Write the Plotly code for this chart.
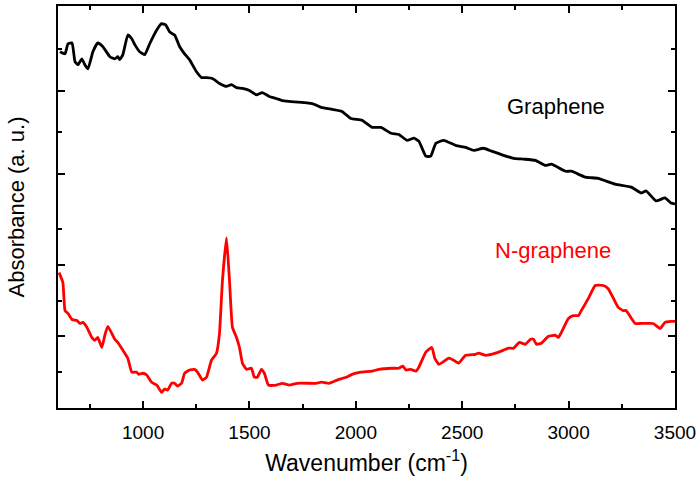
import plotly.graph_objects as go

# Graphene spectrum (upper layer, arbitrary units)
graphene_wn = [609, 633, 647, 666, 680, 694, 712, 726, 741, 764, 787, 811, 844, 867, 881, 890,
               905, 928, 947, 961, 984, 1008, 1031, 1064, 1087, 1106, 1125, 1148, 1172, 1195,
               1218, 1251, 1275, 1298, 1326, 1359, 1392, 1415, 1439, 1467, 1500, 1532, 1560,
               1593, 1626, 1654, 1687, 1795, 1837, 1888, 1935, 1977, 2029, 2076, 2118, 2165,
               2202, 2240, 2273, 2296, 2329, 2352, 2376, 2413, 2469, 2516, 2554, 2600, 2638,
               2694, 2741, 2788, 2844, 2891, 2919, 2985, 3013, 3078, 3139, 3219, 3294, 3341,
               3364, 3411, 3453, 3481, 3500]
graphene_abs = [8.93, 8.88, 9.12, 9.14, 8.69, 8.62, 8.76, 8.62, 8.52, 8.93, 9.14, 9.05, 8.81,
                8.76, 8.81, 8.74, 8.86, 9.33, 9.24, 9.10, 8.93, 8.86, 9.12, 9.45, 9.60, 9.57,
                9.40, 9.33, 9.05, 8.88, 8.74, 8.45, 8.31, 8.31, 8.29, 8.17, 8.10, 8.14, 8.07,
                8.05, 8.00, 7.90, 7.95, 7.86, 7.81, 7.76, 7.74, 7.69, 7.60, 7.55, 7.50, 7.33,
                7.29, 7.12, 7.12, 6.98, 6.95, 6.81, 6.86, 6.79, 6.43, 6.43, 6.74, 6.81, 6.69,
                6.64, 6.57, 6.62, 6.55, 6.45, 6.38, 6.36, 6.33, 6.21, 6.24, 6.07, 6.07, 5.93,
                5.90, 5.76, 5.69, 5.55, 5.60, 5.36, 5.43, 5.31, 5.29]

# N-graphene spectrum (lower layer, arbitrary units)
ngraphene_wn = [605, 623, 633, 647, 666, 689, 703, 717, 736, 759, 773, 787, 806, 820, 834, 867,
                881, 905, 928, 947, 970, 979, 998, 1017, 1040, 1064, 1087, 1101, 1115, 1134,
                1148, 1162, 1181, 1195, 1218, 1242, 1256, 1279, 1298, 1321, 1345, 1359, 1373,
                1392, 1406, 1420, 1439, 1453, 1467, 1486, 1509, 1523, 1537, 1556, 1570, 1589,
                1626, 1654, 1687, 1724, 1813, 1837, 1874, 1912, 1954, 1982, 2024, 2076, 2109,
                2169, 2202, 2221, 2235, 2258, 2282, 2296, 2329, 2357, 2371, 2390, 2437, 2460,
                2483, 2516, 2563, 2577, 2610, 2657, 2680, 2718, 2741, 2769, 2797, 2821, 2835,
                2849, 2872, 2905, 2938, 2952, 2966, 2999, 3022, 3046, 3060, 3093, 3125, 3163,
                3186, 3209, 3233, 3256, 3270, 3313, 3341, 3397, 3430, 3453, 3481, 3500]
ngraphene_abs = [3.78, 3.50, 2.72, 2.64, 2.47, 2.44, 2.36, 2.39, 2.25, 1.97, 1.89, 1.97, 1.69,
                 2.03, 2.28, 1.92, 1.83, 1.61, 1.39, 1.00, 1.00, 0.94, 0.97, 0.92, 0.72, 0.64,
                 0.44, 0.53, 0.50, 0.69, 0.69, 0.61, 0.69, 0.97, 1.06, 1.08, 1.00, 0.78, 0.86,
                 1.33, 1.53, 2.08, 3.56, 4.75, 3.56, 2.25, 1.97, 1.69, 1.25, 1.08, 1.11, 0.86,
                 0.86, 1.08, 0.97, 0.64, 0.64, 0.69, 0.64, 0.69, 0.69, 0.72, 0.69, 0.78, 0.86,
                 0.94, 1.00, 1.03, 1.08, 1.11, 1.11, 1.17, 1.06, 1.08, 1.03, 1.14, 1.56, 1.69,
                 1.39, 1.22, 1.39, 1.33, 1.25, 1.47, 1.50, 1.53, 1.47, 1.53, 1.58, 1.67, 1.67,
                 1.83, 1.78, 1.92, 1.92, 1.78, 1.81, 2.00, 2.03, 1.97, 2.11, 2.50, 2.58, 2.58,
                 2.72, 3.06, 3.42, 3.42, 3.33, 3.08, 2.81, 2.72, 2.72, 2.36, 2.36, 2.36, 2.22,
                 2.39, 2.42, 2.42]

x_ticks = [1000, 1500, 2000, 2500, 3000, 3500]
x_minor = [750, 1250, 1750, 2250, 2750, 3250]

FONT = "Liberation Sans, Arial, sans-serif"

fig = go.Figure()
fig.add_trace(go.Scatter(x=ngraphene_wn, y=ngraphene_abs, mode="lines",
                         line=dict(color="#ff0000", width=2.8, shape="spline", smoothing=0.4),
                         yaxis="y", showlegend=False))
fig.add_trace(go.Scatter(x=graphene_wn, y=graphene_abs, mode="lines",
                         line=dict(color="#000000", width=2.8, shape="spline", smoothing=0.4),
                         yaxis="y2", showlegend=False))

fig.update_layout(
    width=700, height=483,
    margin=dict(l=58, r=23, t=4, b=75),
    paper_bgcolor="white", plot_bgcolor="white",
    font=dict(family=FONT, color="black"),
    xaxis=dict(range=[600, 3500], tickmode="array", tickvals=x_ticks,
               ticks="inside", ticklen=7, tickwidth=2, tickcolor="black",
               showline=True, linewidth=2, linecolor="black", mirror="ticks",
               showgrid=False, zeroline=False, ticklabelstandoff=6,
               tickfont=dict(size=19, family=FONT),
               minor=dict(tickmode="array", tickvals=x_minor, ticks="inside",
                          ticklen=4, tickwidth=2, tickcolor="black", showgrid=False),
               title=dict(text="Wavenumber (cm<sup>-1</sup>)", font=dict(size=23, family=FONT),
                          standoff=13)),
    yaxis=dict(range=[0, 404 / 36], tickmode="array", tickvals=[0, 2, 4],
               showticklabels=False,
               ticks="inside", ticklen=7, tickwidth=2, tickcolor="black",
               showline=True, linewidth=2, linecolor="black", mirror="ticks",
               showgrid=False, zeroline=False,
               minor=dict(tickmode="array", tickvals=[1, 3, 5], ticks="inside",
                          ticklen=4, tickwidth=2, tickcolor="black", showgrid=False),
               title=dict(text="Absorbance (a. u.)", font=dict(size=22, family=FONT),
                          standoff=25)),
    yaxis2=dict(overlaying="y", side="left", range=[10 - 403 / 42, 10 + 1 / 42],
                tickmode="array", tickvals=[6, 8, 10], showticklabels=False,
                ticks="inside", ticklen=7, tickwidth=2, tickcolor="black",
                showline=True, linewidth=2, linecolor="black", mirror="ticks",
                showgrid=False, zeroline=False,
                minor=dict(tickmode="array", tickvals=[7, 9], ticks="inside",
                           ticklen=4, tickwidth=2, tickcolor="black", showgrid=False)),
    annotations=[
        dict(x=2942, y=7.62, xref="x", yref="y2", text="Graphene", showarrow=False,
             font=dict(size=22, color="black", family=FONT)),
        dict(x=2928, y=4.39, xref="x", yref="y", text="N-graphene", showarrow=False,
             font=dict(size=22, color="#ff0000", family=FONT)),
    ],
)

fig.write_html("out.html", config={"displayModeBar": False},
               post_script="document.body.style.margin='0px';")
